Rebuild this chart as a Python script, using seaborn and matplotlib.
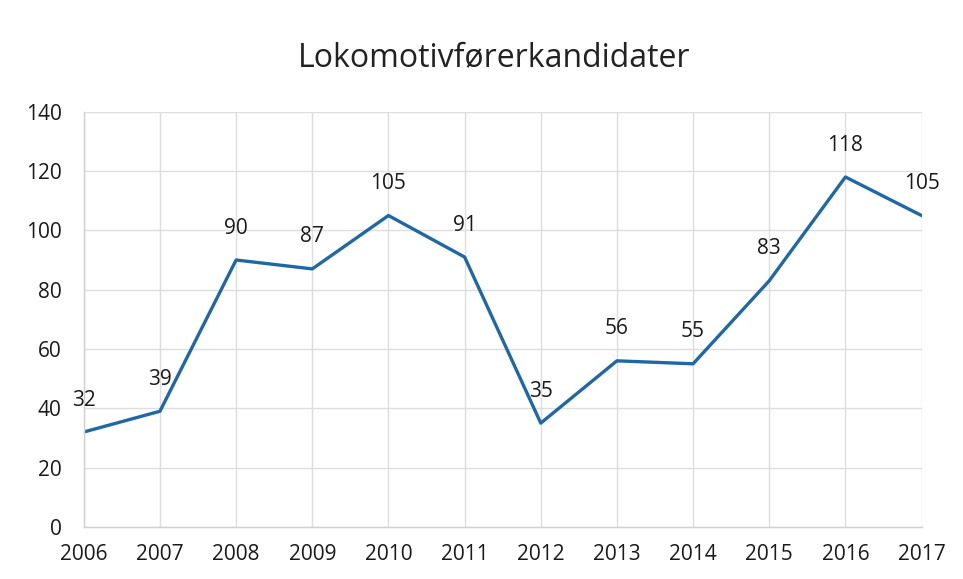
import pandas as pd
import seaborn as sns
import matplotlib.pyplot as plt

years = [2006, 2007, 2008, 2009, 2010, 2011, 2012, 2013, 2014, 2015, 2016, 2017]
kandidater = [32, 39, 90, 87, 105, 91, 35, 56, 55, 83, 118, 105]
y_ticks = [0, 20, 40, 60, 80, 100, 120, 140]

df = pd.DataFrame({"year": years, "antall": kandidater})

sns.set_theme(style="whitegrid")
plt.rcParams['font.family'] = ['Open Sans', 'DejaVu Sans']

fig = plt.figure(figsize=(9.63, 5.79), dpi=100)
ax = fig.add_axes([0.087, 0.090, 0.870, 0.717])

sns.lineplot(data=df, x="year", y="antall", ax=ax, color="#1f68a6", linewidth=2.4)

# data labels above each point
for x, y in zip(years, kandidater):
    ax.annotate(str(y), (x, y), xytext=(0, 23), textcoords="offset points",
                ha="center", va="center", fontsize=15, color="#1a1a1a")

ax.set_xlim(years[0], years[-1])
ax.set_ylim(0, 140)
ax.set_xticks(years)
ax.set_yticks(y_ticks)
ax.tick_params(axis="y", labelsize=15, pad=16, colors="#1a1a1a", length=0)
ax.tick_params(axis="x", labelsize=15, pad=12, colors="#1a1a1a", length=0)
ax.set_xlabel("")
ax.set_ylabel("")
ax.grid(True, color="#dedede", linewidth=1)
ax.set_axisbelow(True)
for side in ["top", "right"]:
    ax.spines[side].set_visible(False)
for side in ["left", "bottom"]:
    ax.spines[side].set_visible(True)
    ax.spines[side].set_color("#d0d0d0")
    ax.spines[side].set_linewidth(1)

fig.text(494 / 963, 1 - 58 / 579, "Lokomotivførerkandidater", ha="center", va="center",
         fontsize=23, color="#222222")

fig.savefig("out.png", dpi=100, facecolor="white")
